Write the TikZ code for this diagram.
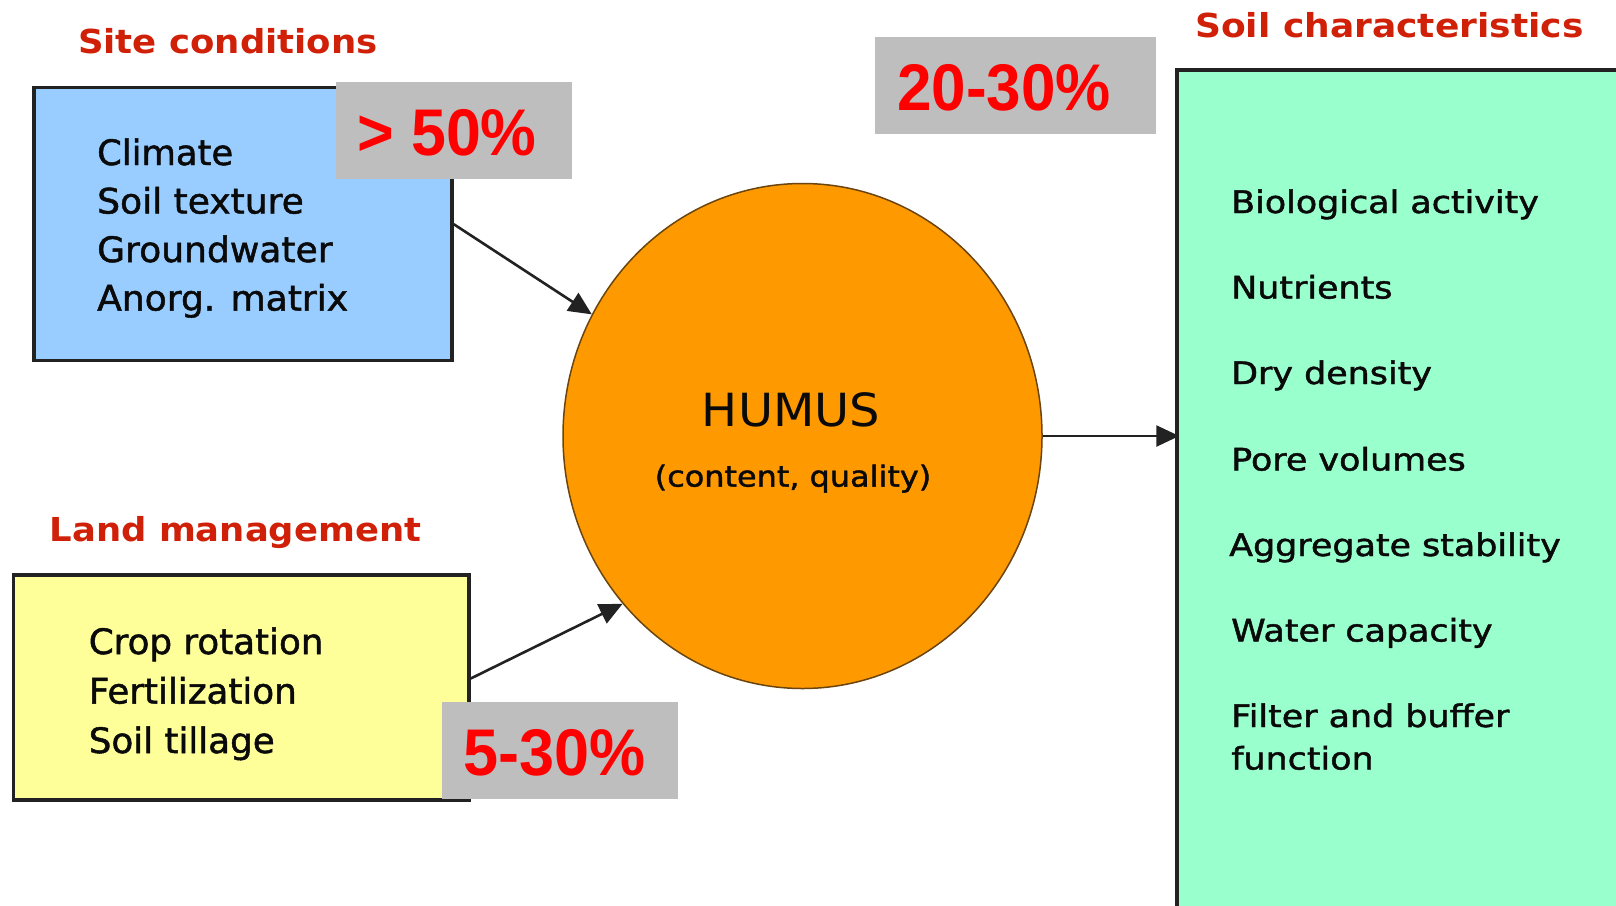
\documentclass[tikz,border=0pt]{standalone}
\usepackage{fontspec}
\usepackage{graphicx}
\usetikzlibrary{shapes.geometric,arrows.meta}

\newfontfamily\dejavu{DejaVu Sans}
\newfontfamily\dejavumed[FakeBold=1.4]{DejaVu Sans}
\newfontfamily\arialbold{Liberation Sans}

\definecolor{sitefill}{HTML}{99CCFF}
\definecolor{landfill}{HTML}{FFFF99}
\definecolor{soilfill}{HTML}{99FFCC}
\definecolor{humusfill}{HTML}{FF9900}
\definecolor{humusedge}{HTML}{6A4510}
\definecolor{tagfill}{HTML}{BEBEBE}
\definecolor{titlered}{HTML}{D02008}
\definecolor{tagred}{HTML}{FF0000}
\definecolor{edgegray}{HTML}{222222}
\definecolor{ink}{HTML}{0A0A0A}

% horizontal stretch of a text, height unchanged
\newcommand{\stretchx}[2]{\scalebox{#1}[1]{#2}}

\begin{document}
\begin{tikzpicture}[x=1pt,y=-1pt,
  box/.style={draw=edgegray, line width=3.5pt, rectangle, inner sep=0pt},
  tag/.style={fill=tagfill, draw=none, rectangle, inner sep=0pt},
  head/.style={anchor=base west, inner sep=0pt, text=titlered,
    font=\dejavu\bfseries\fontsize{33}{38}\selectfont},
  entry/.style={anchor=base west, inner sep=0pt, text=ink,
    font=\dejavumed\fontsize{35}{42}\selectfont},
  soilentry/.style={anchor=base west, inner sep=0pt, text=ink,
    font=\dejavumed\fontsize{31}{38}\selectfont},
  pct/.style={anchor=base west, inner sep=0pt, text=tagred,
    font=\arialbold\bfseries\fontsize{66}{70}\selectfont},
  link/.style={draw=edgegray, line width=2.6pt,
    -{Triangle[length=23pt,width=21pt]}}
]
\useasboundingbox (0,0) rectangle (1616,905);
\fill[white] (0,0) rectangle (1616,905);

% boxes and the humus ellipse
\node[box, fill=sitefill, minimum width=418pt, minimum height=273pt] (site) at (243,224.2) {};
\node[box, fill=landfill, minimum width=455.6pt, minimum height=225pt] (land) at (241.2,687.5) {};
\node[box, fill=soilfill, minimum width=463pt, minimum height=860pt] (soil) at (1408.5,500) {};
\node[ellipse, draw=humusedge, line width=1.5pt, fill=humusfill,
      minimum width=479pt, minimum height=505pt, inner sep=0pt] (humus) at (802.5,436) {};

% connectors
\draw[link] (site.east) -- (humus.150);
\draw[link] ([yshift=9pt]land.east) -- (humus.223);
\draw[link, shorten >=-4pt] (humus.east) -- (humus.east -| soil.west);

% headings
\node[head] (sitehead) at (78,53.3) {\stretchx{1.076}{Site conditions}};
\node[head] (soilhead) at (1195,37.3) {\stretchx{1.092}{Soil characteristics}};
\node[head] (landhead) at (49.5,541) {\stretchx{1.073}{Land management}};

% site conditions
\node[entry] (s1) at (97,165)   {\stretchx{1.01}{Climate}};
\node[entry] (s2) at (97,213.5) {\stretchx{1.03}{Soil texture}};
\node[entry] (s3) at (97,262)   {\stretchx{1.03}{Groundwater}};
\node[entry] (s4) at (97,310.5) {\stretchx{1.03}{Anorg. matrix}};

% land management
\node[entry] (l1) at (88.6,654)   {\stretchx{1.02}{Crop rotation}};
\node[entry] (l2) at (88.6,703.5) {\stretchx{1.02}{Fertilization}};
\node[entry] (l3) at (88.6,753)   {\stretchx{1.02}{Soil tillage}};

% soil characteristics
\node[soilentry] (c1) at (1231,213)   {\stretchx{1.125}{Biological activity}};
\node[soilentry] (c2) at (1231,298.5) {\stretchx{1.125}{Nutrients}};
\node[soilentry] (c3) at (1231,384)   {\stretchx{1.125}{Dry density}};
\node[soilentry] (c4) at (1231,470.5) {\stretchx{1.125}{Pore volumes}};
\node[soilentry] (c5) at (1229,556)   {\stretchx{1.125}{Aggregate stability}};
\node[soilentry] (c6) at (1231,641.5) {\stretchx{1.125}{Water capacity}};
\node[soilentry] (c7) at (1231,727)   {\stretchx{1.125}{Filter and buffer}};
\node[soilentry] (c8) at (1231,769.5) {\stretchx{1.125}{function}};

% humus labels
\node[anchor=base, inner sep=0pt, text=ink, font=\dejavu\fontsize{45.7}{50}\selectfont]
  (humuslabel) at (791,426.7) {\stretchx{1.05}{HUMUS}};
\node[anchor=base, inner sep=0pt, text=ink, font=\dejavumed\fontsize{29}{34}\selectfont]
  (humussub) at (793,486.6) {\stretchx{1.1}{(content, quality)}};

% share tags
\node[tag, minimum width=236pt, minimum height=97pt] (tagsite) at (454,130.85) {};
\node[pct] (pctsite) at (357,155.6) {\stretchx{0.95}{> 50\%}};
\node[tag, minimum width=281pt, minimum height=96.7pt] (tagsoil) at (1015.5,85.65) {};
\node[pct] (pctsoil) at (897,110) {\stretchx{0.94}{20-30\%}};
\node[tag, minimum width=236pt, minimum height=97pt] (tagland) at (560,750.5) {};
\node[pct] (pctland) at (463,775) {\stretchx{0.955}{5-30\%}};
\end{tikzpicture}
\end{document}
